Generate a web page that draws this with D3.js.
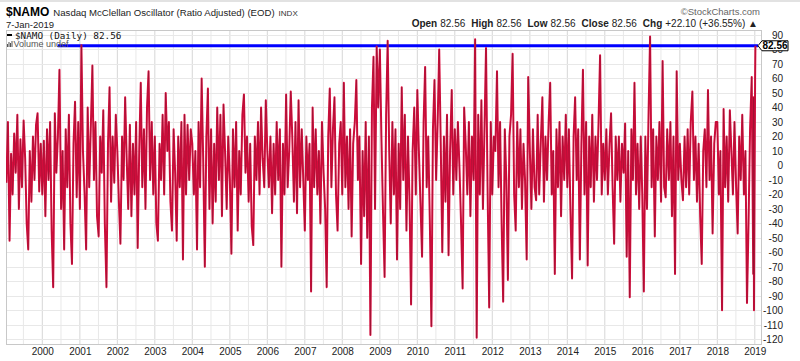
<!DOCTYPE html>
<html>
<head>
<meta charset="utf-8">
<script src="https://cdn.jsdelivr.net/npm/d3@7"></script>
<style>
body { margin: 0; background: #fff; }
svg { display: block; font-family: "Liberation Sans", Arial, sans-serif; }
</style>
</head>
<body>
<div id="chart"></div>
<script>
// $NAMO values, about two per month
const years = [1999, 2000, 2001, 2002, 2003, 2004, 2005, 2006, 2007, 2008,
               2009, 2010, 2011, 2012, 2013, 2014, 2015, 2016, 2017, 2018]
const namo1999 = [-12, 30, -52, 8, -20, 22, -5, 35, -30, 18, -15, 31, 5, -40, -58, 10, -25, 20, -10, 28, 36, -18, 15]
const namo2000 = [-20, 17, -35, 25, -10, 30, -45, -84, 36, -5, 20, 66, -30, 10, -58, 25, -15, 35, -40, -68, 15, 44, -22, 30]
const namo2001 = [-30, 83, 10, -20, -58, 40, -15, 25, 69, -10, 30, -35, -49, 20, -5, 38, -40, -84, 15, 54, -25, 20, -12, 35]
const namo2002 = [10, -25, -54, 20, -10, 47, 5, -30, 28, -35, 15, -20, 30, -57, 10, 57, -15, 25, -30, 40, 65, -10, 30, -20]
const namo2003 = [20, -40, -52, 15, -10, 35, -20, 50, 10, 30, -25, -45, 25, -5, -52, 20, -15, 30, -65, 35, -20, 28, -10, 25]
const namo2004 = [15, -20, 10, -58, 30, -15, 60, 5, -70, 20, 53, -30, 25, -40, 15, -25, 40, -10, 35, -35, 42, 10, -30, 20]
const namo2005 = [-10, -61, 25, -15, 30, -45, 10, -20, 35, 49, -5, 20, -25, 15, -42, -55, 20, -10, 30, -20, 40, 5, -15, 45]
const namo2006 = [10, -15, 20, -33, 15, -20, 30, -10, 25, -70, 15, -20, 49, -15, 10, 51, 20, -25, 30, -33, 45, -15, 25, -10]
const namo2007 = [-45, 20, -10, 15, -87, 40, -15, 25, -20, 10, -40, 30, -5, -30, -84, 20, 53, -15, 25, 47, -20, -45, 15, 30]
const namo2008 = [-20, 57, -15, 20, -30, 25, -49, 15, 30, 59, -10, 20, -68, 10, -35, 30, -50, 20, -117, 40, 75, -30, 82, 40]
const namo2009 = [80, 20, -30, -77, 35, 86, 10, -40, 30, -20, 25, -65, 15, -30, 54, -10, 35, -45, 20, -25, -96, 10, 40, -20]
const namo2010 = [52, 10, -25, -63, 30, 68, -15, 20, -40, -111, 25, 59, -10, 30, 80, 15, -60, 20, -25, 35, -62, 10, 52, -20]
const namo2011 = [25, -10, 30, -3, -40, -85, 40, 15, -20, 30, -35, 20, -10, 87, -119, 35, -20, 45, -30, 25, 81, -15, -98, 30]
const namo2012 = [-20, 20, 10, 65, -15, 30, -40, -94, 25, -10, -79, 20, 35, 77, -20, -45, 30, -15, 25, -30, 15, -10, -65, 61]
const namo2013 = [10, -30, 25, -15, -24, 35, -20, 15, 47, -25, 20, -10, 30, 57, -20, 10, -75, 25, -15, 30, -35, 20, -10, 35]
const namo2014 = [-15, 25, -30, -78, 20, 47, -10, 25, -65, 15, 66, -20, 30, -69, 20, -15, 35, -25, 20, -10, 30, 76, -20, 15]
const namo2015 = [-10, 25, -20, 15, 36, -15, -54, 20, -10, 20, -25, 15, -5, 29, -63, 10, -91, 25, -10, 57, -20, 15, -30, 20]
const namo2016 = [-20, -87, 20, -30, 35, 89, -15, 25, -49, 20, -10, 30, -25, 72, -15, -22, 25, -10, 30, -35, 20, -75, 65, -10]
const namo2017 = [15, -10, -24, 20, -15, 25, -20, 30, 51, -10, 20, -25, 15, -35, -68, 10, 25, -15, 52, -10, 20, -47, 15, 30]
const namo2018 = [30, -20, 10, -100, 39, -15, 20, -25, 38, 10, -20, 30, -15, -47, 20, -10, 35, -20, 10, -95, -40, 25, 61, -75]
const tailDates = ['2018-12-20', '2018-12-24', '2019-01-04', '2019-01-07']
const tailValues = [47, -100, 60.46, 82.56]

const lastClose = 82.56
const lineFrom = '2000-05-30'
const yTicks = d3.range(-120, 91, 10)
const xTickYears = d3.range(2000, 2020)

const width = 800, height = 361
const plot = { left: 6, right: 761, top: 30, bottom: 344 }
const parse = d3.timeParse('%Y-%m-%d')

const yearly = [namo1999, namo2000, namo2001, namo2002, namo2003, namo2004, namo2005,
                namo2006, namo2007, namo2008, namo2009, namo2010, namo2011, namo2012,
                namo2013, namo2014, namo2015, namo2016, namo2017, namo2018]
const data = []
years.forEach((yr, k) => {
    const vals = yearly[k]
    const off = 24 - vals.length
    vals.forEach((v, i) => {
        data.push({ date: new Date(yr, 0, 1 + Math.round((i + off) * 365 / 24)), v: v })
    })
})
tailDates.forEach((d, i) => data.push({ date: parse(d), v: tailValues[i] }))

const svg = d3.select('#chart')
    .append('svg')
    .attr('width', width)
    .attr('height', height)

const xScale = d3.scaleTime()
    .domain([new Date(2000, 0, 1), new Date(2019, 0, 1)])
    .range([42.3, 754.8])
const yScale = d3.scaleLinear().domain([-120, 90]).range([339.3, 35])

// top rule
svg.append('rect')
    .attr('x', 0).attr('y', 0).attr('width', width).attr('height', 2)
    .attr('fill', '#e2e2e2')

// grid
const halfYears = d3.timeMonth.every(6).range(new Date(1999, 6, 1), new Date(2019, 0, 2))
svg.append('g')
    .selectAll('line')
    .data(halfYears)
    .join('line')
    .attr('x1', d => xScale(d)).attr('x2', d => xScale(d))
    .attr('y1', plot.top).attr('y2', plot.bottom)
    .attr('stroke', d => d.getMonth() === 0 ? '#d6d6d6' : '#e8e8e8')
    .attr('stroke-width', 1)

svg.append('g')
    .selectAll('line')
    .data(yTicks)
    .join('line')
    .attr('x1', plot.left).attr('x2', plot.right)
    .attr('y1', d => Math.round(yScale(d)) + 0.5).attr('y2', d => Math.round(yScale(d)) + 0.5)
    .attr('stroke', '#e8e8e8')

// frame
svg.append('rect')
    .attr('x', plot.left + 0.5).attr('y', plot.top + 0.5)
    .attr('width', plot.right - plot.left).attr('height', plot.bottom - plot.top)
    .attr('fill', 'none')
    .attr('stroke', '#c8c8c8')

// horizontal line at last close
svg.append('line')
    .attr('x1', xScale(parse(lineFrom))).attr('x2', plot.right - 3)
    .attr('y1', yScale(lastClose)).attr('y2', yScale(lastClose))
    .attr('stroke', '#0000ff')
    .attr('stroke-width', 3)

svg.append('clipPath').attr('id', 'clip')
    .append('rect')
    .attr('x', plot.left).attr('y', plot.top)
    .attr('width', plot.right - plot.left).attr('height', plot.bottom - plot.top)

const line = d3.line()
    .x(d => xScale(d.date))
    .y(d => yScale(d.v))

//crimson line with dark core
svg.append('path')
    .datum(data)
    .attr('clip-path', 'url(#clip)')
    .attr('fill', 'none')
    .attr('stroke', '#de0c3e')
    .attr('stroke-width', 2)
    .attr('stroke-linejoin', 'round')
    .attr('d', line)

svg.append('path')
    .datum(data)
    .attr('clip-path', 'url(#clip)')
    .attr('fill', 'none')
    .attr('stroke', '#222')
    .attr('stroke-opacity', 0.4)
    .attr('stroke-width', 0.5)
    .attr('d', line)

// y axis on the right
const yaxis = d3.axisRight(yScale)
    .tickValues(yTicks)
    .tickSize(0)
    .tickFormat(d => String(d))
const gy = svg.append('g')
    .attr('transform', 'translate(' + plot.right + ',0)')
    .call(yaxis)
gy.select('.domain').remove()
gy.selectAll('text')
    .attr('x', 22)
    .attr('text-anchor', 'end')
    .style('font-size', '10px')
    .style('font-family', '"Liberation Sans", Arial, sans-serif')
    .attr('fill', '#222')

// x axis
const xaxis = d3.axisBottom(xScale)
    .tickValues(xTickYears.map(y => new Date(y, 0, 1)))
    .tickSize(0)
    .tickFormat(d3.timeFormat('%Y'))
const gx = svg.append('g')
    .attr('transform', 'translate(0,' + plot.bottom + ')')
    .call(xaxis)
gx.select('.domain').remove()
gx.selectAll('text')
    .attr('y', 4)
    .style('font-size', '10px')
    .style('font-family', '"Liberation Sans", Arial, sans-serif')
    .attr('fill', '#222')

// last value tag, drawn over the 80 label as in the source
const ty = yScale(lastClose)
svg.append('path')
    .attr('d', `M${plot.right - 3},${ty} L${plot.right + 1},${ty - 5} H788 V${ty + 5} H${plot.right + 1} Z`)
    .attr('fill', '#fff')
    .attr('stroke', '#000')
    .attr('stroke-width', 1)
svg.append('text')
    .attr('x', 775).attr('y', ty + 3.5)
    .attr('text-anchor', 'middle')
    .style('font-size', '10px')
    .style('font-weight', 'bold')
    .text(lastClose.toFixed(2))

// title block
const title = svg.append('text').attr('x', 6).attr('y', 16)
title.append('tspan').style('font-size', '12px').style('font-weight', 'bold').text('$NAMO')
title.append('tspan').attr('dx', 4).style('font-size', '9.6px').attr('fill', '#222')
    .text('Nasdaq McClellan Oscillator (Ratio Adjusted) (EOD)')
title.append('tspan').attr('dx', 4).style('font-size', '8px').attr('fill', '#333').text('INDX')

svg.append('text')
    .attr('x', 6).attr('y', 27.5)
    .style('font-size', '9.5px')
    .attr('fill', '#222')
    .text('7-Jan-2019')

svg.append('text')
    .attr('x', 760).attr('y', 15)
    .attr('text-anchor', 'end')
    .style('font-size', '9.5px')
    .attr('fill', '#666')
    .text('\u00a9StockCharts.com')

const ohlc = [['Open', '82.56'], ['High', '82.56'], ['Low', '82.56'], ['Close', '82.56'], ['Chg', '+22.10 (+36.55%) \u25b2']]
const quote = svg.append('text')
    .attr('x', 758).attr('y', 27)
    .attr('text-anchor', 'end')
    .style('font-size', '10px')
    .attr('fill', '#222')
ohlc.forEach((p, i) => {
    quote.append('tspan').attr('dx', i ? 6 : 0).style('font-weight', 'bold').text(p[0])
    quote.append('tspan').attr('dx', 3).text(p[1])
})

// legend
svg.append('line')
    .attr('x1', 7).attr('x2', 12).attr('y1', 35).attr('y2', 35)
    .attr('stroke', '#000').attr('stroke-width', 2)
svg.append('text')
    .attr('x', 15).attr('y', 38.5)
    .style('font-family', '"DejaVu Sans Mono", monospace')
    .style('font-size', '9.3px')
    .attr('fill', '#111')
    .text('$NAMO (Daily) 82.56')

const bars = [3, 5, 4, 6]
svg.append('g')
    .selectAll('rect')
    .data(bars)
    .join('rect')
    .attr('x', (d, i) => 7 + i * 1.5)
    .attr('y', d => 47 - d)
    .attr('width', 1)
    .attr('height', d => d)
    .attr('fill', '#555')
svg.append('text')
    .attr('x', 13.5).attr('y', 47)
    .style('font-size', '9px')
    .attr('fill', '#555')
    .text('Volume undef')
</script>
</body>
</html>
